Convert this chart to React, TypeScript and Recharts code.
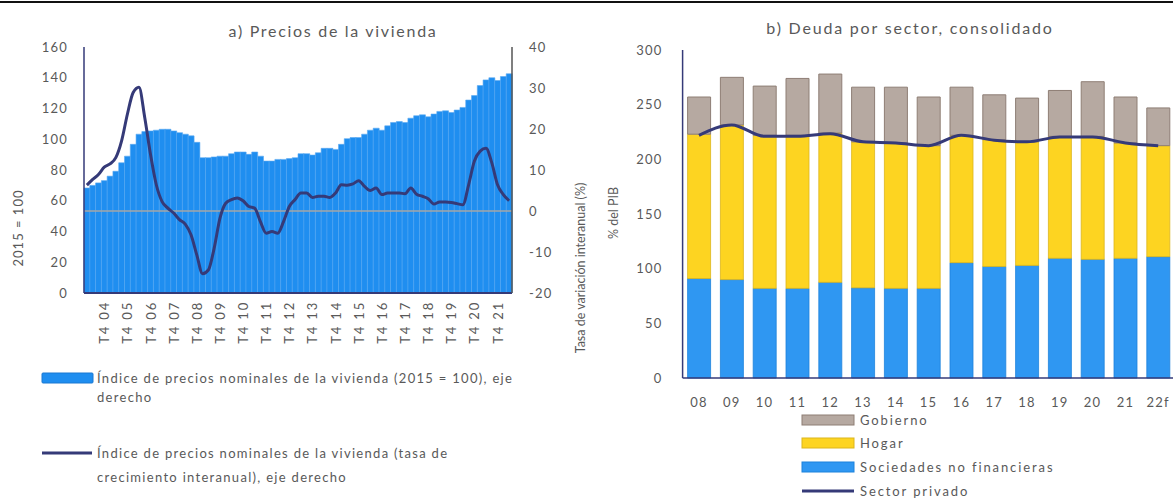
import React from 'react';
import { ComposedChart, Bar, Line, XAxis, YAxis, ReferenceLine } from 'recharts';

// ---------- Panel a) Precios de la vivienda ----------
const quarters = [
  "T1 04", "T2 04", "T3 04", "T4 04", "T1 05", "T2 05", "T3 05", "T4 05",
  "T1 06", "T2 06", "T3 06", "T4 06", "T1 07", "T2 07", "T3 07", "T4 07",
  "T1 08", "T2 08", "T3 08", "T4 08", "T1 09", "T2 09", "T3 09", "T4 09",
  "T1 10", "T2 10", "T3 10", "T4 10", "T1 11", "T2 11", "T3 11", "T4 11",
  "T1 12", "T2 12", "T3 12", "T4 12", "T1 13", "T2 13", "T3 13", "T4 13",
  "T1 14", "T2 14", "T3 14", "T4 14", "T1 15", "T2 15", "T3 15", "T4 15",
  "T1 16", "T2 16", "T3 16", "T4 16", "T1 17", "T2 17", "T3 17", "T4 17",
  "T1 18", "T2 18", "T3 18", "T4 18", "T1 19", "T2 19", "T3 19", "T4 19",
  "T1 20", "T2 20", "T3 20", "T4 20", "T1 21", "T2 21", "T3 21", "T4 21",
  "T1 22", "T2 22",
];

const priceIndex = [
  68.3, 70, 71.6, 73.1, 76, 79.2, 84.7, 89,
  96.7, 103.3, 105, 105.4, 105.9, 106.5, 106.5, 105.4,
  104.3, 103.3, 102.2, 98, 88, 88, 88.5, 89,
  89, 90.6, 91.7, 91.7, 90.2, 91.7, 89, 85.8,
  85.8, 86.9, 86.9, 87.4, 88, 90.6, 90.6, 89.7,
  91.2, 94.1, 94.1, 93.4, 96.7, 100.4, 101.1, 101.1,
  103.3, 105.9, 107.2, 105.9, 108.7, 110.9, 111.5, 110.9,
  113.7, 115.3, 115.9, 114.6, 116.4, 118.1, 118.5, 117.4,
  119, 120.7, 125.5, 128.4, 134.9, 138.6, 140, 138.2,
  140.8, 142.6,
];

const priceGrowth = [
  6.3, 7.7, 8.9, 10.7, 11.5, 13, 17.1, 23.6,
  28.9, 30.2, 22.8, 13.8, 6.4, 2.3, 0.7, -0.5,
  -2.1, -3.2, -5.8, -10.7, -15.3, -14.4, -9.1, -1.8,
  1.9, 2.8, 3.2, 2.5, 1.1, 0.7, -2.6, -5.4,
  -5, -5.4, -2.6, 1.1, 2.8, 4.4, 4.4, 3.3,
  3.6, 3.6, 3.3, 4.4, 6.4, 6.3, 6.6, 7.4,
  6, 5, 5.6, 4, 4.4, 4.4, 4.4, 4.2,
  5.6, 4.1, 3.6, 3, 1.7, 2.2, 2.2, 2.1,
  1.8, 1.5, 6.4, 12.2, 14.6, 15.3, 11.8, 6.4,
  4, 2.5,
];

const leftTicks = [0, 20, 40, 60, 80, 100, 120, 140, 160];
const rightTicks = [-20, -10, 0, 10, 20, 30, 40];

// ---------- Panel b) Deuda por sector ----------
const years = ["08", "09", "10", "11", "12", "13", "14", "15", "16", "17", "18", "19", "20", "21", "22f"];
const sociedades = [91, 90, 82, 82, 87.5, 82.5, 82, 82, 105.5, 102, 103, 109.5, 108.5, 109.5, 111];
const hogar = [132, 141.5, 140, 140, 136.5, 133.5, 133, 130.5, 116.5, 116, 113, 111.5, 112.5, 105.5, 101.5];
const gobierno = [34, 43.5, 45, 52, 54, 50, 51, 44.5, 44, 41, 40, 42, 50, 42, 34.5];
const sectorPrivado = [222, 231.5, 221, 221, 223.5, 216, 215, 212.5, 222, 217.5, 216, 220.5, 220.5, 215, 212.5];
const debtTicks = [0, 50, 100, 150, 200, 250, 300];

const dataA = quarters.map((q, i) => ({ q, idx: priceIndex[i], g: priceGrowth[i] }));
const dataB = years.map((y, i) => ({
  y,
  soc: sociedades[i],
  hog: hogar[i],
  gob: gobierno[i],
  priv: sectorPrivado[i],
}));

const FONT = "Lato, 'Open Sans', sans-serif";
const TXT = '#595959';
const NAVY = '#353a78';
const BLUE_A = '#1f8ef0';
const BLUE_B = '#2f97f2';
const YELLOW = '#fdd421';
const TAUPE = '#b6a9a1';

const tickStyle = { fontFamily: FONT, fontSize: 13, fill: TXT, letterSpacing: 1.2 };

const QuarterTick = (props: any) => {
  const { x, y, payload } = props;
  const v = String(payload.value);
  if (!v.startsWith('T4')) return <g />;
  return (
    <text
      x={x}
      y={y}
      transform={`rotate(-90 ${x} ${y})`}
      textAnchor="end"
      dominantBaseline="central"
      style={{ fontFamily: FONT, fontSize: 13, fill: TXT, letterSpacing: 1.8 }}
    >
      {v}
    </text>
  );
};

export default function App() {
  return (
    <div
      style={{
        position: 'absolute',
        left: 0,
        top: 0,
        width: 1173,
        height: 498,
        overflow: 'hidden',
        background: '#fff',
      }}
    >
      <div style={{ position: 'absolute', left: 0, top: 1, width: 1173, height: 2, background: '#111' }} />

      <div style={{ position: 'absolute', left: 0, top: 0 }}>
        <ComposedChart
          width={590}
          height={360}
          data={dataA}
          margin={{ top: 47, right: 28, bottom: 7, left: 40 }}
          barCategoryGap={0}
        >
          <XAxis
            dataKey="q"
            interval={0}
            tick={<QuarterTick />}
            tickLine={false}
            tickSize={0}
            tickMargin={8}
            height={60}
            axisLine={{ stroke: NAVY, strokeWidth: 2 }}
          />
          <YAxis
            yAxisId="left"
            domain={[0, 160]}
            ticks={leftTicks}
            width={44}
            tickLine={false}
            tickSize={0}
            tickMargin={16}
            axisLine={{ stroke: NAVY, strokeWidth: 1.5 }}
            tick={tickStyle}
          />
          <YAxis
            yAxisId="right"
            orientation="right"
            domain={[-20, 40]}
            ticks={rightTicks}
            width={50}
            tickLine={false}
            tickSize={0}
            tickMargin={17}
            axisLine={{ stroke: '#555', strokeWidth: 1.5 }}
            tick={{ ...tickStyle, textAnchor: 'start' }}
          />
          <Bar
            yAxisId="left"
            dataKey="idx"
            fill={BLUE_A}
            stroke="#5aaaf2"
            strokeWidth={0.6}
            isAnimationActive={false}
          />
          <ReferenceLine yAxisId="right" y={0} stroke="#a6a6a6" strokeWidth={1.5} />
          <Line
            yAxisId="right"
            dataKey="g"
            type="monotone"
            stroke={NAVY}
            strokeWidth={3}
            dot={false}
            isAnimationActive={false}
          />
        </ComposedChart>
      </div>

      <div style={{ position: 'absolute', left: 590, top: 0 }}>
        <ComposedChart
          width={590}
          height={420}
          data={dataB}
          margin={{ top: 50, right: 5.4, bottom: 12, left: 32.6 }}
        >
          <XAxis
            dataKey="y"
            interval={0}
            tickLine={false}
            tickSize={0}
            tickMargin={20}
            height={30}
            axisLine={{ stroke: NAVY, strokeWidth: 1.5 }}
            tick={tickStyle}
          />
          <YAxis
            domain={[0, 300]}
            ticks={debtTicks}
            width={60}
            tickLine={false}
            tickSize={0}
            tickMargin={20}
            axisLine={{ stroke: NAVY, strokeWidth: 1.5 }}
            tick={tickStyle}
          />
          <Bar dataKey="soc" stackId="s" barSize={23} fill={BLUE_B} stroke="#1d82dc" strokeWidth={0.8} isAnimationActive={false} />
          <Bar dataKey="hog" stackId="s" barSize={23} fill={YELLOW} stroke="#dcb51c" strokeWidth={0.8} isAnimationActive={false} />
          <Bar dataKey="gob" stackId="s" barSize={23} fill={TAUPE} stroke="#8e7e75" strokeWidth={1} isAnimationActive={false} />
          <Line
            dataKey="priv"
            type="monotone"
            stroke={NAVY}
            strokeWidth={3}
            dot={false}
            isAnimationActive={false}
          />
        </ComposedChart>
      </div>

      <svg
        width={1173}
        height={498}
        style={{ position: 'absolute', left: 0, top: 0, pointerEvents: 'none' }}
      >
        <g style={{ fontFamily: FONT, fill: TXT }}>
          <text x={333} y={30} textAnchor="middle" dominantBaseline="central" style={{ fontSize: 16, letterSpacing: 1.7 }}>
            a) Precios de la vivienda
          </text>
          <text x={910} y={27} textAnchor="middle" dominantBaseline="central" style={{ fontSize: 16, letterSpacing: 1.8 }}>
            b) Deuda por sector, consolidado
          </text>

          <text x={18} y={228} transform="rotate(-90 18 228)" textAnchor="middle" dominantBaseline="central" style={{ fontSize: 13, letterSpacing: 1 }}>
            2015 = 100
          </text>
          <text x={580} y={268} transform="rotate(-90 580 268)" textAnchor="middle" dominantBaseline="central" style={{ fontSize: 12.5 }}>
            Tasa de variación interanual (%)
          </text>
          <text x={613} y={213} transform="rotate(-90 613 213)" textAnchor="middle" dominantBaseline="central" style={{ fontSize: 12.5 }}>
            % del PIB
          </text>

          <rect x={42} y={373} width={51} height={10} fill={BLUE_A} stroke="#1a78d2" strokeWidth={1} rx={1} />
          <text x={97} y={378} dominantBaseline="central" style={{ fontSize: 13, letterSpacing: 1.3 }}>
            Índice de precios nominales de la vivienda (2015 = 100), eje
          </text>
          <text x={97} y={397} dominantBaseline="central" style={{ fontSize: 13, letterSpacing: 1.3 }}>
            derecho
          </text>
          <line x1={42} x2={92} y1={453} y2={453} stroke={NAVY} strokeWidth={3} />
          <text x={97} y={453} dominantBaseline="central" style={{ fontSize: 13, letterSpacing: 1.3 }}>
            Índice de precios nominales de la vivienda (tasa de
          </text>
          <text x={97} y={477} dominantBaseline="central" style={{ fontSize: 13, letterSpacing: 1.3 }}>
            crecimiento interanual), eje derecho
          </text>

          <rect x={802} y={415} width={52} height={10} fill={TAUPE} stroke="#8e7e75" strokeWidth={1} />
          <text x={860} y={420} dominantBaseline="central" style={{ fontSize: 13, letterSpacing: 1.9 }}>Gobierno</text>
          <rect x={802} y={438} width={52} height={10} fill={YELLOW} stroke="#dcb51c" strokeWidth={1} />
          <text x={860} y={443} dominantBaseline="central" style={{ fontSize: 13, letterSpacing: 1.9 }}>Hogar</text>
          <rect x={802} y={462} width={52} height={10} fill={BLUE_B} stroke="#1d82dc" strokeWidth={1} />
          <text x={860} y={467} dominantBaseline="central" style={{ fontSize: 13, letterSpacing: 1.9 }}>Sociedades no financieras</text>
          <line x1={802} x2={854} y1={491} y2={491} stroke={NAVY} strokeWidth={3} />
          <text x={860} y={491} dominantBaseline="central" style={{ fontSize: 13, letterSpacing: 1.9 }}>Sector privado</text>
        </g>
      </svg>
    </div>
  );
}
